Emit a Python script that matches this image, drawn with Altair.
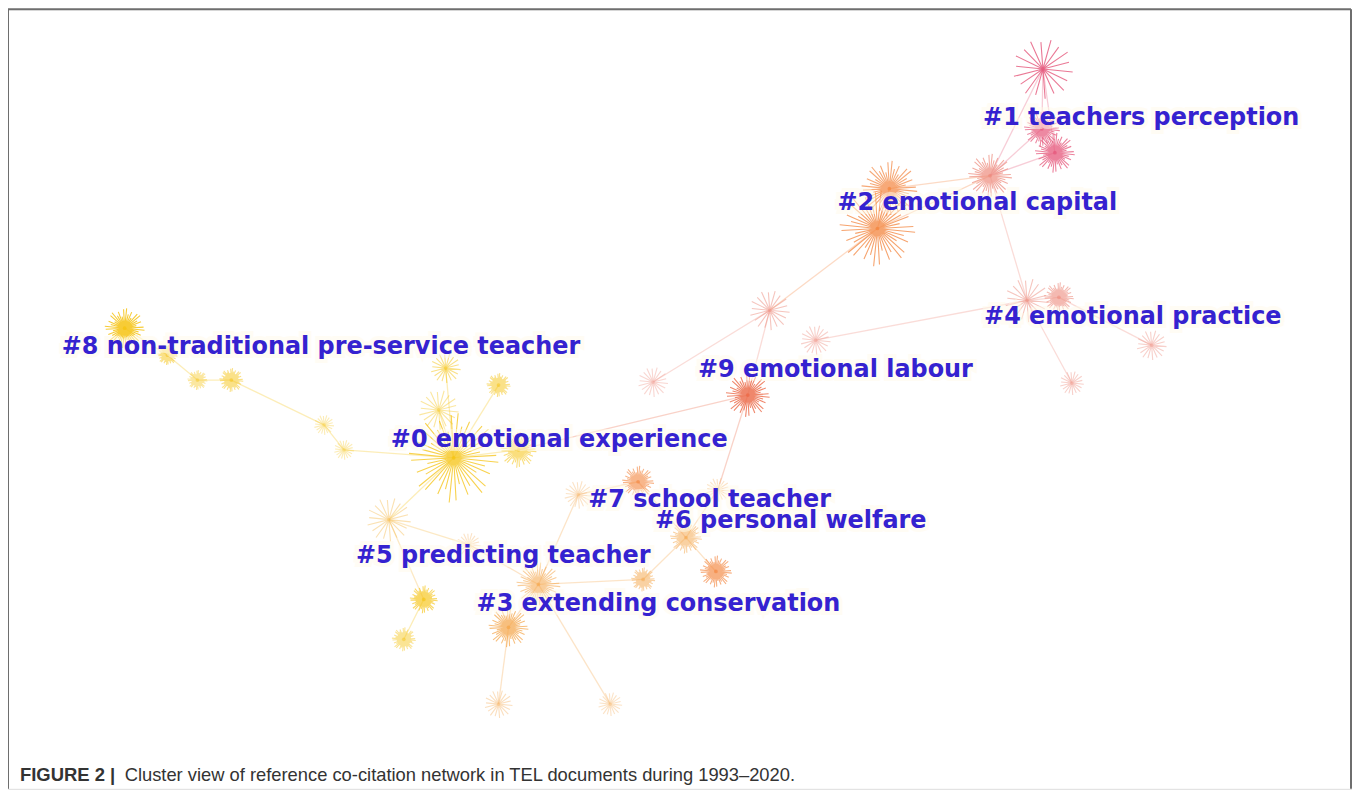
import math
import altair as alt
import pandas as pd

# ---------------- data ----------------
hub_id = ["h1a","h1b","h1c","h1d","h2a","h2b",
          "h4a","h4b","h4c","h4d",
          "h9a","h9b","h9c","h9d",
          "h0a","h0b","h0c","h0d","h0e",
          "h8a","h8b","h8c","h8d","h8e","h8f",
          "h5a","h5b","h5c","h5d",
          "h3a","h3b","h3c","h3d",
          "h7a","h7b","h7c",
          "h6a","h6b","h6c"]
hub_x = [1046,1045,1058,993,880,892,
         1030,1062,1155,1075,
         750,772,818,655,
         455,447,500,520,440,
         125,168,198,232,325,345,
         390,425,405,470,
         510,540,500,612,
         640,580,720,
         688,718,645]
hub_y = [68,128,152,175,228,188,
         300,297,345,383,
         395,310,340,382,
         458,368,385,450,410,
         328,355,380,380,425,450,
         520,600,640,545,
         628,585,705,705,
         482,495,490,
         538,572,580]
hub_r = [30,18,20,22,38,28,
         22,15,15,12,
         22,20,15,15,
         45,15,12,18,20,
         20,10,10,12,10,10,
         22,14,12,12,
         20,22,14,12,
         16,14,12,
         16,16,12]
hub_kind = ["sparse","dense","dense","dense","dense","dense",
            "sparse","dense","sparse","sparse",
            "dense","sparse","sparse","sparse",
            "dense","sparse","dense","dense","sparse",
            "dense","dense","dense","dense","sparse","sparse",
            "sparse","dense","dense","sparse",
            "dense","dense","sparse","sparse",
            "dense","sparse","sparse",
            "dense","dense","dense"]
hub_group = ["pink","pink","pink","salmon","orange","orange",
             "salmon","salmon","salmon","salmon",
             "redorange","salmon","salmon","salmon",
             "yellow","yellow","yellow","yellow","yellow",
             "yellow","yellow","yellow","yellow","yellow","yellow",
             "ylorange","yellow","yellow","lorange",
             "lorange","lorange","lorange","lorange",
             "orange","lorange","lorange",
             "lorange","orange","lorange"]
hub_alpha = [0.8,0.7,0.75,0.7,0.75,0.7,
             0.5,0.6,0.4,0.4,
             0.8,0.5,0.4,0.35,
             0.75,0.5,0.5,0.55,0.4,
             0.85,0.5,0.4,0.5,0.3,0.3,
             0.4,0.65,0.45,0.3,
             0.7,0.55,0.35,0.3,
             0.6,0.3,0.3,
             0.5,0.65,0.5]

edge_from = ["h1a","h1a","h1a","h1b","h1c","h2b","h2a","h2a","h1d","h2a","h9b","h9b",
             "h9c","h4a","h4a","h4b","h9a","h9a","h0a","h0a","h0a","h0a","h0a","h8f",
             "h8e","h8d","h8c","h8b","h0a","h5a","h5b","h5a","h5d","h3b","h3a","h3b",
             "h3b","h7b","h7a","h6a","h6a","h6c","h7c"]
edge_to = ["h1d","h1b","h1c","h1d","h1d","h1d","h1d","h2b","h4a","h9b","h9a","h9d",
           "h4a","h4b","h4d","h4c","h7c","h0d","h0b","h0c","h0d","h0e","h8f","h8e",
           "h8d","h8c","h8b","h8a","h5a","h5b","h5c","h5d","h3b","h3a","h3c","h3d",
           "h7b","h7a","h6a","h6b","h6c","h3b","h6a"]

group_names = ["pink","salmon","orange","redorange","yellow","ylorange","lorange"]
group_colors = ["#e6587c","#ee8c7e","#f4863f","#ec6a48","#f6c414","#f6b640","#f5a548"]

label_text = ["#1 teachers perception","#2 emotional capital","#4 emotional practice",
              "#8 non-traditional pre-service teacher","#9 emotional labour",
              "#0 emotional experience","#7 school teacher","#6 personal welfare",
              "#5 predicting teacher","#3 extending conservation"]
label_x = [986,840,987,62,700,392,590,657,357,478]
label_y = [117,202,317,347,370,440,500,521,556,605]

caption_bold = "FIGURE 2 |"
caption_rest = "Cluster view of reference co-citation network in TEL documents during 1993\u20132020."

# ---------------- glyph styles ----------------
def burst(n, lengths):
    parts = []
    for i in range(n):
        a = 2 * math.pi * i / n + 0.1
        L = lengths[i % len(lengths)]
        parts.append("M0,0L%.3f,%.3f" % (L * math.cos(a), L * math.sin(a)))
    return "".join(parts)

shape_dense = burst(40, [1.0, 0.72, 0.88, 0.6, 0.95])
shape_sparse = burst(18, [1.0, 0.9])

# ---------------- tables ----------------
hubs = pd.DataFrame({"id": hub_id, "x": hub_x, "y": hub_y, "r": hub_r,
                     "kind": hub_kind, "group": hub_group, "alpha": hub_alpha})
hubs["size"] = (2 * hubs["r"]) ** 2
pos = hubs.set_index("id")
edges = pd.DataFrame({
    "x": [pos.loc[a, "x"] for a in edge_from],
    "y": [pos.loc[a, "y"] for a in edge_from],
    "x2": [pos.loc[b, "x"] for b in edge_to],
    "y2": [pos.loc[b, "y"] for b in edge_to],
    "group": [pos.loc[a, "group"] for a in edge_from],
})
labels = pd.DataFrame({"text": label_text, "x": label_x, "y": label_y})

W, H = 1348, 782
xs = alt.Scale(domain=[8, 8 + W], range=[0, W], nice=False, zero=False)
ys = alt.Scale(domain=[8, 8 + H], range=[0, H], nice=False, zero=False)
cs = alt.Scale(domain=group_names, range=group_colors)

X = lambda f: alt.X(f, type="quantitative", scale=xs, axis=None)
Y = lambda f: alt.Y(f, type="quantitative", scale=ys, axis=None)

edge_layer = alt.Chart(edges).mark_rule(strokeWidth=1.3, opacity=0.3).encode(
    x=X("x"), y=Y("y"), x2="x2", y2="y2",
    color=alt.Color("group:N", scale=cs, legend=None))

star_layer = alt.Chart(hubs).mark_point(filled=False, strokeWidth=1.1).encode(
    x=X("x"), y=Y("y"),
    size=alt.Size("size:Q", scale=None, legend=None),
    shape=alt.Shape("kind:N", scale=alt.Scale(domain=["dense", "sparse"],
                                              range=[shape_dense, shape_sparse]), legend=None),
    color=alt.Color("group:N", scale=cs, legend=None),
    opacity=alt.Opacity("alpha:Q", scale=None, legend=None))

dot_layer = alt.Chart(hubs).mark_circle(size=14).encode(
    x=X("x"), y=Y("y"),
    color=alt.Color("group:N", scale=cs, legend=None),
    opacity=alt.Opacity("alpha:Q", scale=None, legend=None))

halo_layer = alt.Chart(labels).mark_text(
    align="left", baseline="middle", font="DejaVu Sans", fontWeight="bold", fontSize=24,
    fill="#fffbea", stroke="#fffbea", strokeWidth=8, opacity=0.5).encode(
    x=X("x"), y=Y("y"), text="text:N")

label_layer = alt.Chart(labels).mark_text(
    align="left", baseline="middle", font="DejaVu Sans", fontWeight="bold", fontSize=24,
    color="#3522d0").encode(x=X("x"), y=Y("y"), text="text:N")

frame = pd.DataFrame({"x": [0, 0, W - 1], "y": [0, 0, 0], "x2": [0, W - 1, W - 1], "y2": [H, 0, H]})
frame_layer = alt.Chart(frame).mark_rule(color="#6e6e6e", strokeWidth=2).encode(
    x=alt.X("x:Q", scale=alt.Scale(domain=[0, W], range=[0, W]), axis=None),
    y=alt.Y("y:Q", scale=alt.Scale(domain=[0, H], range=[0, H]), axis=None),
    x2="x2", y2="y2")

cap_df = pd.DataFrame({"t": [caption_bold], "t2": [caption_rest]})
cap_bold = alt.Chart(cap_df).mark_text(
    align="left", baseline="middle", font="Liberation Sans", fontWeight="bold",
    fontSize=18.5, color="#333333").encode(x=alt.value(12), y=alt.value(768), text="t:N")
cap_rest = alt.Chart(cap_df).mark_text(
    align="left", baseline="middle", font="Liberation Sans",
    fontSize=18.4, color="#333333").encode(x=alt.value(117), y=alt.value(768), text="t2:N")

chart = alt.layer(frame_layer, edge_layer, star_layer, dot_layer, halo_layer, label_layer,
                  cap_bold, cap_rest).resolve_scale(x="independent", y="independent").properties(
    width=W, height=H, padding=0, autosize=alt.AutoSizeParams(type="none")
).configure_view(stroke=None).configure(background="white")

chart.save("out.html", embed_options={"renderer": "svg", "actions": False})
